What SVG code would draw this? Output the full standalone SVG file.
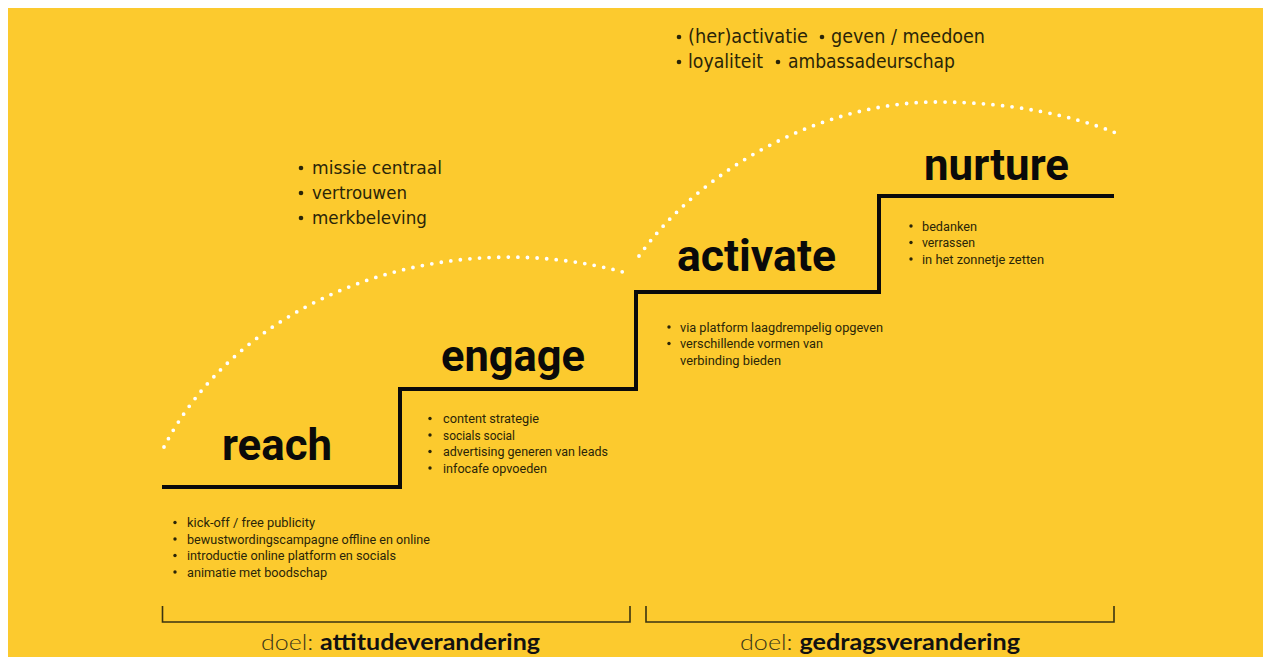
<svg xmlns="http://www.w3.org/2000/svg" width="1263" height="657" viewBox="0 0 1263 657">
  <style>
    .bg { fill: #fcca2e; }
    .stairs { fill: none; stroke: #0a0a0a; stroke-width: 4; stroke-linejoin: miter; }
    .dots { fill: none; stroke: #ffffff; stroke-width: 3.8; stroke-linecap: round; stroke-dasharray: 0 9.6; }
    .bracket { fill: none; stroke: #3a3310; stroke-width: 1.6; }
    .title { font-family: Roboto, "Liberation Sans", sans-serif; font-weight: 700; font-size: 44px; fill: #0a0a0a; }
    .item { font-family: Roboto, "Liberation Sans", sans-serif; font-size: 12.5px; fill: #2a2508; }
    .mid { font-family: "DejaVu Sans", "Liberation Sans", sans-serif; font-size: 17.5px; fill: #2a2508; }
    .top { font-family: "DejaVu Sans Condensed", "DejaVu Sans", sans-serif; font-size: 19px; fill: #2a2508; }
    .dot-s { fill: #2a2508; }
    .goal { font-family: Lato, "Open Sans", sans-serif; font-size: 22px; fill: #111111; }
    .goal .light { font-weight: 300; fill: #3a3518; }
    .goal .strong { font-weight: 700; }
  </style>
  <defs>
    <circle id="b-small" r="1.7" class="dot-s"/>
    <circle id="b-large" r="2.3" class="dot-s"/>
  </defs>

  <rect class="bg" x="8" y="8" width="1255" height="649"/>

  <g id="connectors">
    <!-- staircase -->
    <path class="stairs" d="M162,487 H400 V389 H636 V292 H879 V196 H1114"/>
    <!-- dotted arcs -->
    <path class="dots" d="M164,447 A375,313 0 0 1 623,272"/>
    <path class="dots" d="M639,256 C700,170 820,102 937,102 C1012,102 1074,116 1116,133"/>
    <!-- goal brackets -->
    <path class="bracket" d="M162.5,606 V622 H630 V606"/>
    <path class="bracket" d="M646,606 V622 H1114 V606"/>
  </g>

  <g id="reach">
    <text class="title" x="222" y="460" textLength="110" lengthAdjust="spacingAndGlyphs">reach</text>
    <use href="#b-small" x="175" y="522.5"/>
    <use href="#b-small" x="175" y="539"/>
    <use href="#b-small" x="175" y="555.5"/>
    <use href="#b-small" x="175" y="572"/>
    <g class="item">
      <text x="187" y="527" textLength="128" lengthAdjust="spacingAndGlyphs">kick-off / free publicity</text>
      <text x="187" y="543.5" textLength="243" lengthAdjust="spacingAndGlyphs">bewustwordingscampagne offline en online</text>
      <text x="187" y="560" textLength="209" lengthAdjust="spacingAndGlyphs">introductie online platform en socials</text>
      <text x="187" y="576.5" textLength="140" lengthAdjust="spacingAndGlyphs">animatie met boodschap</text>
    </g>
  </g>

  <g id="engage">
    <text class="title" x="441" y="371" textLength="144" lengthAdjust="spacingAndGlyphs">engage</text>
    <use href="#b-small" x="430" y="418.5"/>
    <use href="#b-small" x="430" y="435"/>
    <use href="#b-small" x="430" y="451.5"/>
    <use href="#b-small" x="430" y="468"/>
    <g class="item">
      <text x="443" y="423" textLength="96" lengthAdjust="spacingAndGlyphs">content strategie</text>
      <text x="443" y="439.5" textLength="72" lengthAdjust="spacingAndGlyphs">socials social</text>
      <text x="443" y="456" textLength="165" lengthAdjust="spacingAndGlyphs">advertising generen van leads</text>
      <text x="443" y="472.5" textLength="104" lengthAdjust="spacingAndGlyphs">infocafe opvoeden</text>
    </g>
  </g>

  <g id="activate">
    <text class="title" x="677" y="271" textLength="159" lengthAdjust="spacingAndGlyphs">activate</text>
    <use href="#b-small" x="669" y="327"/>
    <use href="#b-small" x="669" y="343.5"/>
    <g class="item">
      <text x="680" y="331.5" textLength="203" lengthAdjust="spacingAndGlyphs">via platform laagdrempelig opgeven</text>
      <text x="680" y="348" textLength="143" lengthAdjust="spacingAndGlyphs">verschillende vormen van</text>
      <text x="680" y="365" textLength="101" lengthAdjust="spacingAndGlyphs">verbinding bieden</text>
    </g>
  </g>

  <g id="nurture">
    <text class="title" x="924" y="180" textLength="145" lengthAdjust="spacingAndGlyphs">nurture</text>
    <use href="#b-small" x="911" y="226"/>
    <use href="#b-small" x="911" y="242.5"/>
    <use href="#b-small" x="911" y="259"/>
    <g class="item">
      <text x="922" y="230.5" textLength="55" lengthAdjust="spacingAndGlyphs">bedanken</text>
      <text x="922" y="247" textLength="53" lengthAdjust="spacingAndGlyphs">verrassen</text>
      <text x="922" y="263.5" textLength="122" lengthAdjust="spacingAndGlyphs">in het zonnetje zetten</text>
    </g>
  </g>

  <g id="attitude-values">
    <use href="#b-large" x="301" y="168"/>
    <use href="#b-large" x="301" y="193"/>
    <use href="#b-large" x="301" y="218"/>
    <g class="mid">
      <text x="312" y="174" textLength="130" lengthAdjust="spacingAndGlyphs">missie centraal</text>
      <text x="312" y="199" textLength="95" lengthAdjust="spacingAndGlyphs">vertrouwen</text>
      <text x="312" y="224" textLength="115" lengthAdjust="spacingAndGlyphs">merkbeleving</text>
    </g>
  </g>

  <g id="behaviour-values">
    <use href="#b-large" x="679" y="37"/>
    <use href="#b-large" x="822" y="37"/>
    <use href="#b-large" x="679" y="62"/>
    <use href="#b-large" x="778" y="62"/>
    <g class="top">
      <text x="688" y="43" textLength="120" lengthAdjust="spacingAndGlyphs">(her)activatie</text>
      <text x="831" y="43" textLength="154" lengthAdjust="spacingAndGlyphs">geven / meedoen</text>
      <text x="688" y="68" textLength="75" lengthAdjust="spacingAndGlyphs">loyaliteit</text>
      <text x="788" y="68" textLength="167" lengthAdjust="spacingAndGlyphs">ambassadeurschap</text>
    </g>
  </g>

  <g id="goal-attitude">
    <text class="goal" x="261" y="650" textLength="279" lengthAdjust="spacingAndGlyphs"><tspan class="light">doel: </tspan><tspan class="strong">attitudeverandering</tspan></text>
  </g>

  <g id="goal-behaviour">
    <text class="goal" x="740" y="650" textLength="280" lengthAdjust="spacingAndGlyphs"><tspan class="light">doel: </tspan><tspan class="strong">gedragsverandering</tspan></text>
  </g>
</svg>
